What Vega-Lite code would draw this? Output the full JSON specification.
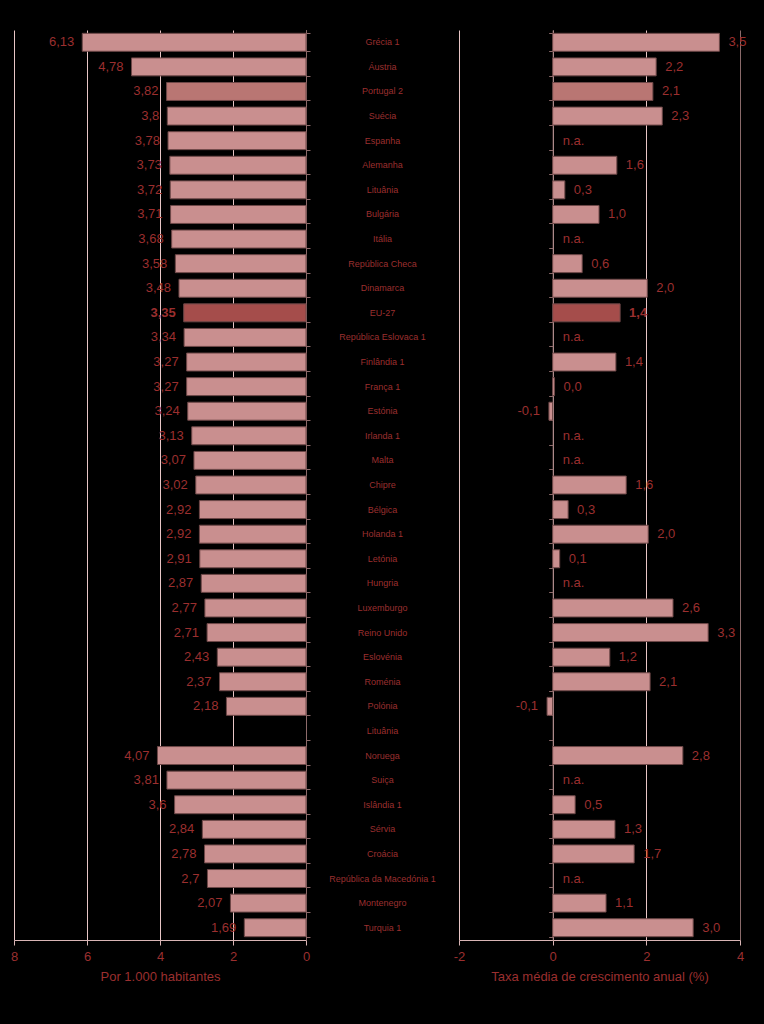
{
  "$schema": "https://vega.github.io/schema/vega-lite/v6.json",
  "background": "black",
  "padding": {"left": 10, "top": 30, "right": 17, "bottom": 42},
  "bounds": "flush",
  "spacing": 0,
  "config": {"view": {"stroke": null}, "font": "Liberation Sans"},
  "data": {"values": [
    {"i": 1, "c": "Grécia 1", "g": "n", "l": 6.13, "ll": "6,13", "r": 3.56, "rl": "3,5"},
    {"i": 2, "c": "Áustria", "g": "n", "l": 4.78, "ll": "4,78", "r": 2.21, "rl": "2,2"},
    {"i": 3, "c": "Portugal 2", "g": "p", "l": 3.82, "ll": "3,82", "r": 2.14, "rl": "2,1"},
    {"i": 4, "c": "Suécia", "g": "n", "l": 3.8, "ll": "3,8", "r": 2.34, "rl": "2,3"},
    {"i": 5, "c": "Espanha", "g": "n", "l": 3.78, "ll": "3,78", "r": null, "rl": "n.a."},
    {"i": 6, "c": "Alemanha", "g": "n", "l": 3.73, "ll": "3,73", "r": 1.37, "rl": "1,6"},
    {"i": 7, "c": "Lituânia", "g": "n", "l": 3.72, "ll": "3,72", "r": 0.26, "rl": "0,3"},
    {"i": 8, "c": "Bulgária", "g": "n", "l": 3.71, "ll": "3,71", "r": 0.99, "rl": "1,0"},
    {"i": 9, "c": "Itália", "g": "n", "l": 3.68, "ll": "3,68", "r": null, "rl": "n.a."},
    {"i": 10, "c": "República Checa", "g": "n", "l": 3.58, "ll": "3,58", "r": 0.63, "rl": "0,6"},
    {"i": 11, "c": "Dinamarca", "g": "n", "l": 3.48, "ll": "3,48", "r": 2.02, "rl": "2,0"},
    {"i": 12, "c": "EU-27", "g": "e", "l": 3.35, "ll": "3,35", "r": 1.44, "rl": "1,4"},
    {"i": 13, "c": "República Eslovaca 1", "g": "n", "l": 3.34, "ll": "3,34", "r": null, "rl": "n.a."},
    {"i": 14, "c": "Finlândia 1", "g": "n", "l": 3.27, "ll": "3,27", "r": 1.35, "rl": "1,4"},
    {"i": 15, "c": "França 1", "g": "n", "l": 3.27, "ll": "3,27", "r": 0.04, "rl": "0,0"},
    {"i": 16, "c": "Estónia", "g": "n", "l": 3.24, "ll": "3,24", "r": -0.08, "rl": "-0,1"},
    {"i": 17, "c": "Irlanda 1", "g": "n", "l": 3.13, "ll": "3,13", "r": null, "rl": "n.a."},
    {"i": 18, "c": "Malta", "g": "n", "l": 3.07, "ll": "3,07", "r": null, "rl": "n.a."},
    {"i": 19, "c": "Chipre", "g": "n", "l": 3.02, "ll": "3,02", "r": 1.57, "rl": "1,6"},
    {"i": 20, "c": "Bélgica", "g": "n", "l": 2.92, "ll": "2,92", "r": 0.33, "rl": "0,3"},
    {"i": 21, "c": "Holanda 1", "g": "n", "l": 2.92, "ll": "2,92", "r": 2.04, "rl": "2,0"},
    {"i": 22, "c": "Letónia", "g": "n", "l": 2.91, "ll": "2,91", "r": 0.15, "rl": "0,1"},
    {"i": 23, "c": "Hungria", "g": "n", "l": 2.87, "ll": "2,87", "r": null, "rl": "n.a."},
    {"i": 24, "c": "Luxemburgo", "g": "n", "l": 2.77, "ll": "2,77", "r": 2.57, "rl": "2,6"},
    {"i": 25, "c": "Reino Unido", "g": "n", "l": 2.71, "ll": "2,71", "r": 3.32, "rl": "3,3"},
    {"i": 26, "c": "Eslovénia", "g": "n", "l": 2.43, "ll": "2,43", "r": 1.22, "rl": "1,2"},
    {"i": 27, "c": "Roménia", "g": "n", "l": 2.37, "ll": "2,37", "r": 2.08, "rl": "2,1"},
    {"i": 28, "c": "Polónia", "g": "n", "l": 2.18, "ll": "2,18", "r": -0.12, "rl": "-0,1"},
    {"i": 29, "c": "Lituânia", "g": "n", "l": null, "ll": "", "r": null, "rl": ""},
    {"i": 30, "c": "Noruega", "g": "n", "l": 4.07, "ll": "4,07", "r": 2.78, "rl": "2,8"},
    {"i": 31, "c": "Suiça", "g": "n", "l": 3.81, "ll": "3,81", "r": null, "rl": "n.a."},
    {"i": 32, "c": "Islândia 1", "g": "n", "l": 3.6, "ll": "3,6", "r": 0.48, "rl": "0,5"},
    {"i": 33, "c": "Sérvia", "g": "n", "l": 2.84, "ll": "2,84", "r": 1.33, "rl": "1,3"},
    {"i": 34, "c": "Croácia", "g": "n", "l": 2.78, "ll": "2,78", "r": 1.74, "rl": "1,7"},
    {"i": 35, "c": "República da Macedónia 1", "g": "n", "l": 2.7, "ll": "2,7", "r": null, "rl": "n.a."},
    {"i": 36, "c": "Montenegro", "g": "n", "l": 2.07, "ll": "2,07", "r": 1.14, "rl": "1,1"},
    {"i": 37, "c": "Turquia 1", "g": "n", "l": 1.69, "ll": "1,69", "r": 3.0, "rl": "3,0"}
  ]},
  "hconcat": [
    {
      "width": 292,
      "height": 910,
      "encoding": {
        "y": {"field": "i", "type": "ordinal", "scale": {"domain": [1,2,3,4,5,6,7,8,9,10,11,12,13,14,15,16,17,18,19,20,21,22,23,24,25,26,27,28,29,30,31,32,33,34,35,36,37], "paddingInner": 0.27, "paddingOuter": 0.135},
          "axis": {"orient": "right", "labels": false, "title": null, "tickBand": "extent", "domainColor": "#8c6a6a", "tickColor": "#8c6a6a", "tickSize": 4}},
        "x": {"field": "l", "type": "quantitative", "scale": {"domain": [0, 8], "reverse": true, "nice": false},
          "axis": {"values": [0, 2, 4, 6, 8], "labelFlush": false, "grid": true, "gridColor": "#e8c6c6", "domainColor": "#d9b5b5", "tickColor": "#d9b5b5", "tickSize": 5, "labelColor": "#9b2f2f", "labelFontSize": 13, "labelPadding": 5, "title": "Por 1.000 habitantes", "titleColor": "#9b2f2f", "titleFontSize": 13, "titleFontWeight": "normal", "titlePadding": 7}}
      },
      "layer": [
        {"mark": {"type": "bar", "stroke": "#6e4848", "strokeWidth": 1},
          "encoding": {"color": {"field": "g", "type": "nominal", "scale": {"domain": ["n", "p", "e"], "range": ["#c98f8f", "#b97673", "#a54d4b"]}, "legend": null}}},
        {"transform": [{"filter": "datum.g !== 'e' && datum.l != null"}],
          "mark": {"type": "text", "align": "right", "baseline": "middle", "dx": -8, "fontSize": 13, "color": "#9b2f2f"},
          "encoding": {"text": {"field": "ll"}}},
        {"transform": [{"filter": "datum.g === 'e'"}],
          "mark": {"type": "text", "align": "right", "baseline": "middle", "dx": -8, "fontSize": 13, "fontWeight": "bold", "color": "#9b2f2f"},
          "encoding": {"text": {"field": "ll"}}}
      ]
    },
    {
      "width": 153,
      "height": 910,
      "mark": {"type": "text", "align": "center", "baseline": "middle", "fontSize": 9, "color": "#9b2f2f"},
      "encoding": {
        "y": {"field": "i", "type": "ordinal", "scale": {"domain": [1,2,3,4,5,6,7,8,9,10,11,12,13,14,15,16,17,18,19,20,21,22,23,24,25,26,27,28,29,30,31,32,33,34,35,36,37], "paddingInner": 0.27, "paddingOuter": 0.135}, "axis": null},
        "text": {"field": "c"}
      }
    },
    {
      "width": 281,
      "height": 910,
      "encoding": {
        "y": {"field": "i", "type": "ordinal", "scale": {"domain": [1,2,3,4,5,6,7,8,9,10,11,12,13,14,15,16,17,18,19,20,21,22,23,24,25,26,27,28,29,30,31,32,33,34,35,36,37], "paddingInner": 0.27, "paddingOuter": 0.135},
          "axis": {"orient": "left", "offset": -93.67, "labels": false, "title": null, "tickBand": "extent", "domainColor": "#8c6a6a", "tickColor": "#8c6a6a", "tickSize": 4}}
      },
      "layer": [
        {"mark": {"type": "bar", "stroke": "#6e4848", "strokeWidth": 1},
          "encoding": {
            "x": {"field": "r", "type": "quantitative", "scale": {"domain": [-2, 4], "nice": false},
              "axis": {"values": [-2, 0, 2, 4], "labelExpr": "'' + datum.value", "labelFlush": false, "grid": true, "gridColor": {"condition": {"test": "datum.value === 4", "value": "#8a6a6a"}, "value": "#e8c6c6"}, "domainColor": "#d9b5b5", "tickColor": "#d9b5b5", "tickSize": 5, "labelColor": "#9b2f2f", "labelFontSize": 13, "labelPadding": 5, "title": "Taxa média de crescimento anual (%)", "titleColor": "#9b2f2f", "titleFontSize": 13, "titleFontWeight": "normal", "titlePadding": 7}},
            "color": {"field": "g", "type": "nominal", "scale": {"domain": ["n", "p", "e"], "range": ["#c98f8f", "#b97673", "#a54d4b"]}, "legend": null}}},
        {"transform": [{"filter": "datum.r != null && datum.r >= 0 && datum.g !== 'e'"}],
          "mark": {"type": "text", "align": "left", "baseline": "middle", "dx": 9, "fontSize": 13, "color": "#9b2f2f"},
          "encoding": {"x": {"field": "r", "type": "quantitative"}, "text": {"field": "rl"}}},
        {"transform": [{"filter": "datum.g === 'e'"}],
          "mark": {"type": "text", "align": "left", "baseline": "middle", "dx": 9, "fontSize": 13, "fontWeight": "bold", "color": "#9b2f2f"},
          "encoding": {"x": {"field": "r", "type": "quantitative"}, "text": {"field": "rl"}}},
        {"transform": [{"filter": "datum.r != null && datum.r < 0"}],
          "mark": {"type": "text", "align": "right", "baseline": "middle", "dx": -9, "fontSize": 13, "color": "#9b2f2f"},
          "encoding": {"x": {"field": "r", "type": "quantitative"}, "text": {"field": "rl"}}},
        {"transform": [{"filter": "datum.rl === 'n.a.'"}],
          "mark": {"type": "text", "align": "left", "baseline": "middle", "dx": 10, "fontSize": 13, "color": "#9b2f2f"},
          "encoding": {"x": {"datum": 0, "type": "quantitative"}, "text": {"field": "rl"}}}
      ]
    }
  ]
}
